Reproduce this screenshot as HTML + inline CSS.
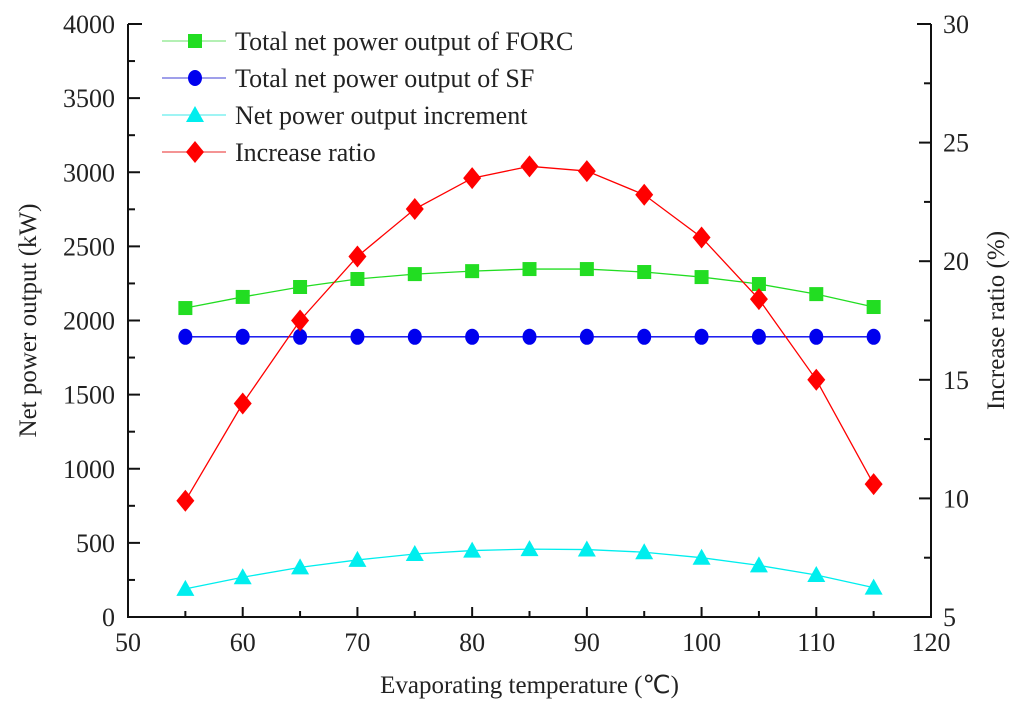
<!DOCTYPE html>
<html><head><meta charset="utf-8"><style>
body{margin:0;background:#fff;}
svg text{font-family:"Liberation Serif",serif;fill:#222;}
</style></head><body>
<svg id="chart" width="1024" height="709" xmlns="http://www.w3.org/2000/svg"></svg>
<script>
const temps=[55,60,65,70,75,80,85,90,95,100,105,110,115];
const forc=[2084,2159,2226,2280,2313,2333,2347,2347,2327,2293,2246,2178,2091];
const sf=[1890,1890,1890,1890,1890,1890,1890,1890,1890,1890,1890,1890,1890];
const incr=[190,268,335,385,425,448,458,455,437,400,348,283,198];
const ratio=[9.9,14.0,17.5,20.2,22.2,23.5,24.0,23.8,22.8,21.0,18.4,15.0,10.6];
const xTicks=[50,60,70,80,90,100,110,120];
const yTicks=[0,500,1000,1500,2000,2500,3000,3500,4000];
const y2Ticks=[5,10,15,20,25,30];

const L=128,R=931,T=24,B=617;
const X=v=>L+(v-50)/70*(R-L);
const Y=v=>B-v/4000*(B-T);
const Y2=v=>B-(v-5)/25*(B-T);
const svg=document.getElementById('chart');
const NS='http://www.w3.org/2000/svg';
function mk(tag,attrs,parent){const e=document.createElementNS(NS,tag);for(const k in attrs)e.setAttribute(k,attrs[k]);(parent||svg).appendChild(e);return e;}

const ax=mk('g',{});


mk('path',{d:`M${L},${T}V${B}H${R}V${T}`,fill:'none',stroke:'#111','stroke-width':2},ax);
mk('line',{x1:L,y1:T,x2:L+14,y2:T,stroke:'#111','stroke-width':2},ax);
mk('line',{x1:R,y1:T,x2:R-14,y2:T,stroke:'#111','stroke-width':2},ax);
for(let v=50;v<=120;v+=5){const x=X(v);const len=v%10===0?10:6;mk('line',{x1:x,y1:B,x2:x,y2:B-len,stroke:'#111','stroke-width':2},ax);}
xTicks.forEach(v=>{const t=mk('text',{x:X(v),y:B+34,'text-anchor':'middle','font-size':26},ax);t.textContent=v;
});
for(let v=0;v<=4000;v+=250){const y=Y(v);const len=v%500===0?12:7;mk('line',{x1:L,y1:y,x2:L+len,y2:y,stroke:'#111','stroke-width':2},ax);}
yTicks.forEach(v=>{const t=mk('text',{x:L-13,y:Y(v)+9,'text-anchor':'end','font-size':26},ax);t.textContent=v;
});
for(let v=5;v<=30;v+=2.5){const y=Y2(v);const len=(v%5===0)?12:7;mk('line',{x1:R,y1:y,x2:R-len,y2:y,stroke:'#111','stroke-width':2},ax);}
y2Ticks.forEach(v=>{const t=mk('text',{x:R+12,y:Y2(v)+9,'text-anchor':'start','font-size':26},ax);t.textContent=v;
});

let t=mk('text',{x:(L+R)/2,y:693,'text-anchor':'middle','font-size':25});t.textContent='Evaporating temperature (℃)';

t=mk('text',{x:36,y:(T+B)/2,'text-anchor':'middle','font-size':25,transform:`rotate(-90 36 ${(T+B)/2})`});t.textContent='Net power output (kW)';

t=mk('text',{x:1004,y:(T+B)/2,'text-anchor':'middle','font-size':25,transform:`rotate(-90 1004 ${(T+B)/2})`});t.textContent='Increase ratio (%)';


function marker(g,type,x,y,c){
 if(type==='sq')mk('rect',{x:x-7,y:y-7,width:14,height:14,fill:c},g);
 else if(type==='ci')mk('ellipse',{cx:x,cy:y,rx:7,ry:8,fill:c},g);
 else if(type==='tr')mk('polygon',{points:`${x},${y-9} ${x-9},${y+7} ${x+9},${y+7}`,fill:c},g);
 else mk('polygon',{points:`${x},${y-11} ${x-9},${y} ${x},${y+11} ${x+9},${y}`,fill:c},g);
}
function series(name,vals,yf,color,type){
 const g=mk('g',{});
 
 
 mk('polyline',{points:vals.map((v,i)=>X(temps[i])+','+yf(v)).join(' '),fill:'none',stroke:color,'stroke-width':1.3},g);
 vals.forEach((v,i)=>marker(g,type,X(temps[i]),yf(v),color));
}
series('forc-series',forc,Y,'#22dd22','sq');
series('sf-series',sf,Y,'#0000ee','ci');
series('increment-series',incr,Y,'#00eeee','tr');
series('ratio-series',ratio,Y2,'#ff0000','di');

const leg=[['Total net power output of FORC','#22dd22','sq','#88e888'],['Total net power output of SF','#0000ee','ci','#6666dd'],['Net power output increment','#00eeee','tr','#66eeee'],['Increase ratio','#ff0000','di','#ee5555']];
leg.forEach((l,i)=>{const y=41+i*37;const g=mk('g',{});
 
 mk('line',{x1:162,y1:y,x2:226,y2:y,stroke:l[3],'stroke-width':1.3},g);
 marker(g,l[2],195,y,l[1]);
 const tt=mk('text',{x:235,y:y+9,'font-size':26},g);tt.textContent=l[0];});
</script>
</body></html>
